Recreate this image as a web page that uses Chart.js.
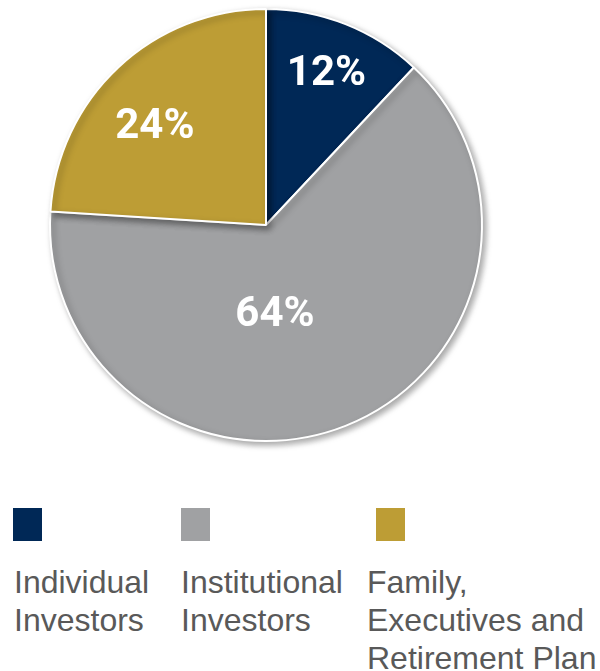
<!DOCTYPE html>
<html>
<head>
<meta charset="utf-8">
<script src="https://cdn.jsdelivr.net/npm/chart.js@4.4.1/dist/chart.umd.min.js"></script>
<style>
    html, body { margin: 0; padding: 0; background: #ffffff; }
    #wrap { position: relative; width: 600px; height: 671px; overflow: hidden; }
    #pieBox { position: absolute; left: 0; top: 0; width: 600px; height: 460px; }
    .swatch { position: absolute; top: 508px; width: 29px; height: 33px; }
    .legText {
        position: absolute; top: 563px;
        font-family: "Liberation Sans", Arial, sans-serif;
        font-size: 32px; line-height: 38px; color: #595959;
    }
</style>
</head>
<body>
<div id="wrap">
    <div id="pieBox"><canvas id="ownershipPie" width="600" height="460"></canvas></div>
    <div id="legend"></div>
</div>
<script>
const labels = ["Individual Investors", "Institutional Investors", "Family, Executives and Retirement Plan"];
const shares = [12, 64, 24];
const sliceColors = ["#002856", "#A0A1A3", "#BD9D35"];

// legend layout (left of swatch, left of text, text width)
const legendCols = [
    { sw: 13, tx: 14, w: 150 },
    { sw: 181, tx: 181, w: 170 },
    { sw: 376, tx: 367, w: 235 }
];

// hand-placed percentage labels: radius fraction + angle nudge (deg)
const labelPlace = [
    { r: 0.76, da: 0 },
    { r: 0.41, da: 15.8 },
    { r: 0.69, da: -5 }
];

document.addEventListener("DOMContentLoaded", function () {
    let legend = document.getElementById("legend");
    labels.forEach((name, i) => {
        let sw = document.createElement("div");
        sw.className = "swatch";
        sw.style.left = legendCols[i].sw + "px";
        sw.style.background = sliceColors[i];
        legend.appendChild(sw);

        let tx = document.createElement("div");
        tx.className = "legText";
        tx.style.left = legendCols[i].tx + "px";
        tx.style.width = legendCols[i].w + "px";
        tx.textContent = name;
        legend.appendChild(tx);
    });

    const shadowPlugin = {
        id: "pieShadow",
        beforeDatasetDraw(chart) {
            const ctx = chart.ctx;
            ctx.save();
            ctx.shadowColor = "rgba(0,0,0,0.35)";
            ctx.shadowBlur = 6;
            ctx.shadowOffsetX = 3;
            ctx.shadowOffsetY = 3;
        },
        afterDatasetDraw(chart) {
            chart.ctx.restore();
        }
    };

    const pctLabels = {
        id: "pctLabels",
        afterDatasetsDraw(chart) {
            const ctx = chart.ctx;
            const arcs = chart.getDatasetMeta(0).data;
            ctx.save();
            ctx.fillStyle = "#ffffff";
            ctx.font = "bold 42px Roboto, 'Liberation Sans', sans-serif";
            ctx.textAlign = "center";
            ctx.textBaseline = "middle";
            arcs.forEach((arc, i) => {
                const p = arc.getProps(["x", "y", "startAngle", "endAngle", "outerRadius"], true);
                const mid = (p.startAngle + p.endAngle) / 2 + labelPlace[i].da * Math.PI / 180;
                const rr = p.outerRadius * labelPlace[i].r;
                ctx.fillText(shares[i] + "%", p.x + Math.cos(mid) * rr, p.y + Math.sin(mid) * rr + 2);
            });
            ctx.restore();
        }
    };

    new Chart("ownershipPie", {
        type: "pie",
        data: {
            labels: labels,
            datasets: [{
                data: shares,
                backgroundColor: sliceColors,
                borderColor: "#ffffff",
                borderWidth: 2
            }]
        },
        options: {
            responsive: false,
            animation: false,
            layout: { padding: { left: 49, right: 117, top: 8, bottom: 18 } },
            plugins: {
                legend: { display: false },
                tooltip: { enabled: false }
            }
        },
        plugins: [shadowPlugin, pctLabels]
    });
});
</script>
</body>
</html>
